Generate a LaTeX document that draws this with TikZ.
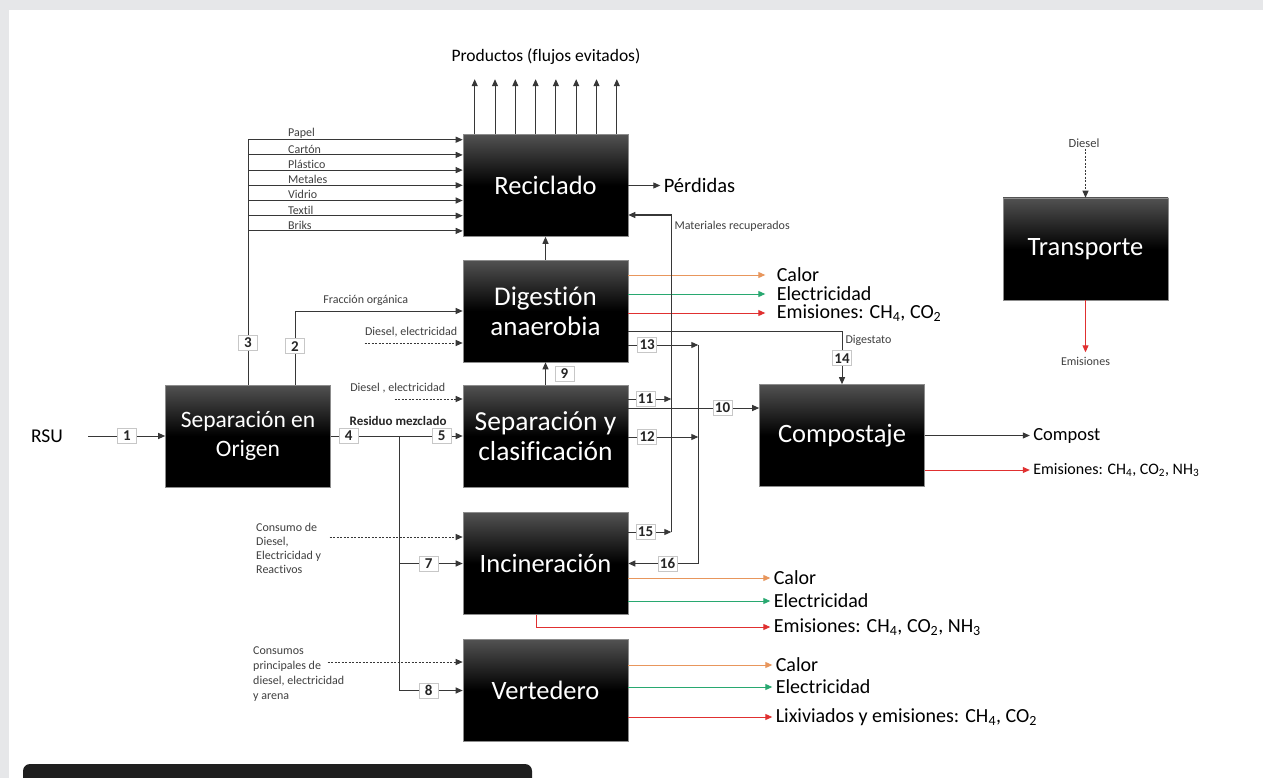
\documentclass[tikz,border=0pt]{standalone}
\usepackage{fontspec}
\setmainfont{Carlito}[Ligatures=NoCommon]
\usetikzlibrary{arrows.meta,positioning,calc}
\definecolor{calor}{RGB}{232,150,92}
\definecolor{elec}{RGB}{40,168,112}
\definecolor{emi}{RGB}{224,48,48}
\definecolor{ln}{RGB}{55,55,55}
\definecolor{marco}{RGB}{230,231,233}

\begin{document}
\begin{tikzpicture}[x=1pt,y=-1pt,
    blk/.style={rectangle,draw=black!45,line width=0.6pt,top color=black!68,bottom color=black,middle color=black,text=white,minimum width=165pt,minimum height=102pt,inner sep=0pt,align=center,font=\fontsize{26.5}{30}\selectfont},
    arr/.style={-{Triangle[length=7pt,width=6pt]},draw=ln,line width=1pt},
    dsh/.style={arr,dash pattern=on 2pt off 1.5pt},
    numbox/.style={draw=black!22,fill=white,inner sep=1pt,minimum width=19pt,minimum height=15pt,font=\bfseries\fontsize{15}{15}\selectfont,text=black!85},
    lbl/.style={font=\fontsize{12}{14.5}\selectfont,text=black!75,align=left,inner sep=1pt},
    outlbl/.style={anchor=west,font=\fontsize{20}{22}\selectfont,inner sep=3pt},
]
\useasboundingbox (0,0) rectangle (1263,778);
\fill[marco] (0,0) rectangle (1263,778);
\fill[white] (9,10) rectangle (1263,778);
\begin{scope}
\clip (0,0) rectangle (1263,778);
\fill[black!88,rounded corners=7pt] (23,764) rectangle (532,800);
\end{scope}

% procesos
\node[blk,font=\fontsize{23.5}{29}\selectfont] (ori) at (248,436) {Separación en\\Origen};
\node[blk] (rec) at (545.5,185.5) {Reciclado};
\node[blk,font=\fontsize{27}{30}\selectfont] (dig) at (545.5,311) {Digestión\\anaerobia};
\node[blk,font=\fontsize{27.5}{30}\selectfont] (sep) at (545.5,436) {Separación y\\clasificación};
\node[blk] (inc) at (545.5,563.5) {Incineración};
\node[blk] (ver) at (545.5,690.5) {Vertedero};
\node[blk] (com) at (842,435.5) {Compostaje};
\node[blk] (tra) at (1085.5,249) {Transporte};

\node[font=\fontsize{19.5}{20}\selectfont] (rsu) at (47,436) {RSU};
\node[font=\fontsize{17.5}{20}\selectfont] (prod) at (546,57) {Productos (flujos evitados)};

% productos
\foreach \i in {0,...,7}
  \draw[arr] ($(rec.north west)+(12+20.3*\i,0)$) -- ++(0,-55);

% entradas a reciclado
\foreach \i/\t in {0/Papel,1/Cartón,2/Plástico,3/Metales,4/Vidrio,5/Textil,6/Briks} {
  \coordinate (r\i) at ($(rec.north west)+(0,5.5+15.2*\i)$);
  \draw[arr] (ori.north |- r\i) -- node[lbl,pos=0.18,anchor=south west]{\t} (r\i);
}
\draw[ln,line width=1pt] (ori.north) -- node[numbox,pos=0.17]{3} (ori.north |- r0);

% fraccion organica
\coordinate (o2) at ($(ori.north)+(47,0)$);
\draw[arr] (o2) |- node[numbox,pos=0.26]{2} node[lbl,pos=0.58,anchor=south west,yshift=4pt]{Fracción orgánica} (dig.west);
\draw[dsh] ($(dig.west)+(-98,32)$) -- node[lbl,pos=1,anchor=south east,xshift=-4pt,yshift=4pt]{Diesel, electricidad} ($(dig.west)+(0,32)$);
\draw[dsh] ($(sep.west)+(-68,-37)$) -- node[lbl,pos=1,anchor=south east,xshift=-16pt,yshift=4pt]{Diesel , electricidad} ($(sep.west)+(0,-37)$);

% entrada
\draw[arr] ([xshift=22pt]rsu.east) -- node[numbox]{1} (ori.west);
\draw[arr] (ori.east) -- node[numbox,pos=0.135]{4} node[lbl,pos=0.51,above=9pt,font=\bfseries\fontsize{13}{14}\selectfont,text=black!85]{Residuo mezclado} node[numbox,pos=0.84]{5} (sep.west);
\coordinate (br) at ($(ori.east)+(69,0)$);
\draw[arr] (br) |- node[numbox,pos=0.73]{7} (inc.west);
\draw[arr] (br) |- node[numbox,pos=0.73]{8} (ver.west);
\draw[dsh] ($(inc.west)+(-133,-26.5)$) -- ($(inc.west)+(0,-26.5)$);
\node[lbl,anchor=north west,font=\fontsize{12}{14}\selectfont] (cinc) at (255,522) {Consumo de\\Diesel,\\Electricidad y\\Reactivos};
\draw[dsh] ($(ver.west)+(-135,-28.5)$) -- ($(ver.west)+(0,-28.5)$);
\node[lbl,anchor=north west,font=\fontsize{12}{15}\selectfont] (cver) at (252,646) {Consumos\\principales de\\diesel, electricidad\\y arena};

% entre procesos
\draw[arr] (dig.north) -- (rec.south);
\draw[arr] (sep.north) -- node[numbox,right=9pt]{9} (dig.south);
\draw[arr] (rec.east) -- ++(32,0) node[outlbl,font=\fontsize{20.5}{22}\selectfont]{Pérdidas};

% salidas digestion
\foreach \c/\dy/\t in {calor/-36/Calor,elec/-17/Electricidad,emi/2/{Emisiones: CH\textsubscript{4}, CO\textsubscript{2}}}
  \draw[arr,draw=\c,\c] ($(dig.east)+(0,\dy)$) -- ++(137,0) node[outlbl,text=black,xshift=8pt]{\t};
\draw[arr] ($(dig.east)+(0,20)$) -| node[numbox,pos=0.755]{14} node[lbl,pos=0.59,right=2pt]{Digestato} (com.north);

% colectores
\coordinate (bt) at ($(dig.east)+(70,34)$);
\coordinate (bb) at ($(inc.east)+(70,0)$);
\coordinate (at) at ($(rec.east)+(43,29.5)$);
\coordinate (ab) at ($(inc.east)+(43,-31.5)$);
\draw[arr] ($(dig.east)+(0,34)$) -- node[numbox,pos=0.27]{13} (bt);
\draw[arr] ($(sep.east)+(0,1)$) -- node[numbox,pos=0.27]{12} ($(sep.east -| bt)+(0,1)$);
\draw[arr] (bt) -- (bb) -- node[numbox,pos=0.44]{16} (inc.east);
\draw[arr] (ab) -- (at) -- (rec.east |- at);
\node[lbl,anchor=west] (matr) at ($(at)+(2,11)$) {Materiales recuperados};
\draw[arr] (inc.east |- ab) -- node[numbox,pos=0.4]{15} (ab);
\draw[arr] ($(sep.east)+(0,-37)$) -- node[numbox,pos=0.4]{11} ($(sep.east -| at)+(0,-37)$);
\draw[arr] ($(sep.east)+(0,-28)$) -- node[numbox,pos=0.72]{10} ($(com.west)+(0,-27.5)$);

% compostaje
\draw[arr] (com.east) -- ++(105,0) node[outlbl,font=\fontsize{18.5}{20}\selectfont]{Compost};
\draw[arr,draw=emi,emi] ($(com.east)+(0,34.5)$) -- ++(105,0) node[outlbl,text=black,font=\fontsize{16}{18}\selectfont]{Emisiones: CH\textsubscript{4}, CO\textsubscript{2}, NH\textsubscript{3}};

% incineracion
\draw[arr,draw=calor,calor] ($(inc.east)+(0,14.5)$) -- ++(142,0) node[outlbl,text=black]{Calor};
\draw[arr,draw=elec,elec] ($(inc.east)+(0,37.5)$) -- ++(142,0) node[outlbl,text=black]{Electricidad};
\draw[arr,draw=emi,emi] ($(inc.south)+(-9.5,0)$) |- ($(inc.east)+(142,63.5)$) node[outlbl,text=black]{Emisiones: CH\textsubscript{4}, CO\textsubscript{2}, NH\textsubscript{3}};

% vertedero
\foreach \c/\dy/\t in {calor/-25.5/Calor,elec/-3.5/Electricidad,emi/26.5/{Lixiviados y emisiones: CH\textsubscript{4}, CO\textsubscript{2}}}
  \draw[arr,draw=\c,\c] ($(ver.east)+(0,\dy)$) -- ++(144,0) node[outlbl,text=black]{\t};

% transporte
\node[lbl,font=\fontsize{12.5}{14}\selectfont] (dsl) at (1084,143) {Diesel};
\draw[dsh] (dsl.south -| tra.north) -- (tra.north);
\draw[arr,draw=emi,emi] (tra.south) -- ++(0,52) node[lbl,below=3pt]{Emisiones};
\end{tikzpicture}
\end{document}
